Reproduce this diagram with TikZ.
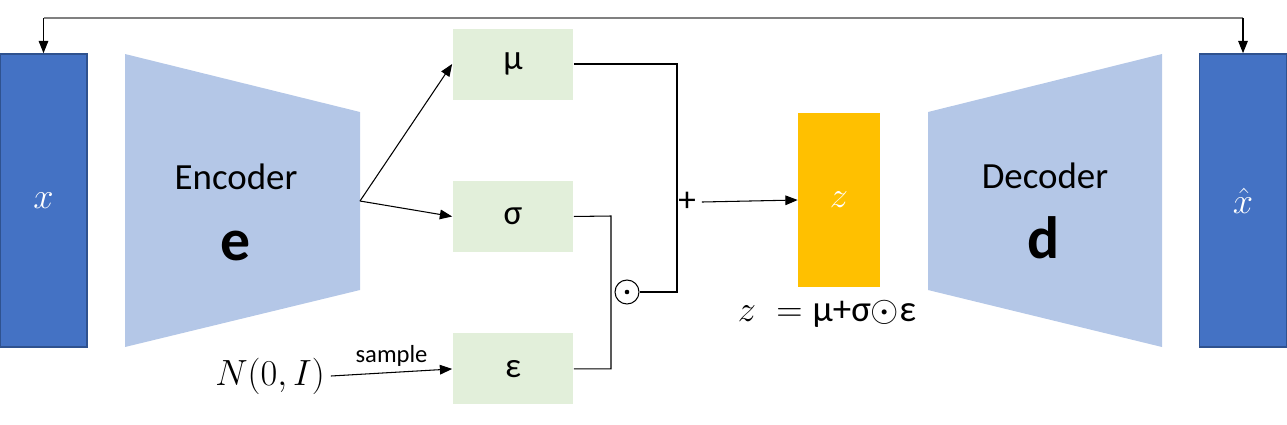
\documentclass[tikz,border=0pt]{standalone}
\usepackage{fontspec}
\setmainfont{Carlito}
\usetikzlibrary{arrows.meta}
\definecolor{datablue}{HTML}{4472C4}
\definecolor{dataedge}{HTML}{2F528F}
\definecolor{netblue}{HTML}{B4C7E7}
\definecolor{latgreen}{HTML}{E2EFDA}
\definecolor{zgold}{HTML}{FFC000}
\tikzset{
  databox/.style={draw=dataedge, line width=1pt, fill=datablue, text=white, minimum width=1.74cm, minimum height=5.86cm, font=\fontsize{21}{25}\selectfont},
  latbox/.style={fill=latgreen, minimum width=2.42cm, minimum height=1.42cm, font=\fontsize{20}{24}\selectfont},
  wire/.style={line width=0.6pt},
  arr/.style={line width=0.6pt, -{Triangle[length=7pt,width=5.5pt]}}
}
\begin{document}
\begin{tikzpicture}[x=0.02cm, y=-0.02cm, node distance=3.05cm]
    \useasboundingbox (0,0) rectangle (1287,424);
    % data boxes
    \node[databox] (x) at (43.5,200.5) {$x$};
    \node[databox] (xhat) at (1243,200.5) {$\hat{x}$};
    % encoder and decoder
    \fill[netblue] (125,54) -- (360,112) -- (360,290) -- (125,347) -- cycle;
    \fill[netblue] (928,112) -- (1162,54) -- (1162,347) -- (928,290) -- cycle;
    \node[font=\fontsize{21}{25}\selectfont] (enc) at (236,177) {Encoder};
    \node[font=\fontsize{34}{40}\selectfont\bfseries] (e) at (236,246) {e};
    \node[font=\fontsize{21}{25}\selectfont] (dec) at (1045,176) {Decoder};
    \node[font=\fontsize{34}{40}\selectfont\bfseries] (d) at (1044,238) {d};
    \coordinate (encR) at (360,201);
    % latent boxes
    \node[latbox] (mu) at (513,64) {μ};
    \node[latbox] (sigma) [below of=mu] {σ};
    \node[latbox] (eps) [below of=sigma] {ε};
    \node[fill=zgold, minimum width=1.64cm, minimum height=3.48cm, text=white, font=\fontsize{21}{25}\selectfont] (z) at (839,200) {$z$};
    \node[draw, circle, line width=0.6pt, minimum size=0.48cm, inner sep=0pt] (od) at (627,292) {};
    \fill (od.center) circle[radius=1.3pt];
    \node[font=\fontsize{20}{24}\selectfont] (plus) at (687,202) {+};
    \node[font=\fontsize{20}{24}\selectfont] (N) at (270,376) {$N(0,I)$};
    \node[font=\fontsize{21}{25}\selectfont] (eq) at (827,314) {$z\;=\;$μ+σ$\odot$ε};
    \coordinate (muC) at (677,64);
    \coordinate (sgC) at (611,216);
    \coordinate (topL) at (43.5,18);
    \coordinate (topR) at (1243,18);
    
    % Draw the edges
    \draw[line width=1.3pt, gray] (topL) -- (topR);
    \draw[arr] (topL) -- (x.north);
    \draw[arr] (topR) -- (xhat.north);
    \draw[arr] (encR) -- (mu.west);
    \draw[arr] (encR) -- (sigma.west);
    \draw[wire] (mu.east) -- (muC) |- (od.east);
    \draw[wire] (sigma.east) -- (sgC) |- (eps.east);
    \draw[arr] (plus.east) -- (z.west);
    \draw[arr] (N.east) -- node[above, font=\fontsize{14}{17}\selectfont] {sample} (eps.west);
\end{tikzpicture}
\end{document}
